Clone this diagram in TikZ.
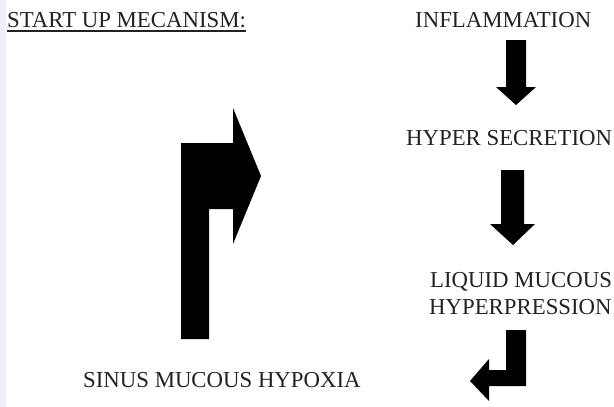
\documentclass[tikz,border=0pt]{standalone}
\usepackage{fontspec}
\setmainfont{Liberation Serif}
\definecolor{stripgray}{HTML}{EEF0F6}
\definecolor{inkgray}{HTML}{222222}
\tikzset{
  label/.style={anchor=base west,inner sep=0pt,text=inkgray,font=\fontsize{22.8}{27}\selectfont},
  blockarrow/.style={fill=black,draw=none}
}
\begin{document}
\begin{tikzpicture}[x=1pt,y=-1pt]
      \useasboundingbox (0,0) rectangle (614,407);
      \fill[stripgray] (0,0) rectangle (6,407);
      \node[label] (title) at (7,27) {START UP MECANISM:};
      \draw[inkgray,line width=1.2pt] ([yshift=-4pt]title.base west) -- ([yshift=-4pt]title.base east);
      \node[label] (infl) at (415,27) {INFLAMMATION};
      \node[label] (secr) at (406,145) {HYPER SECRETION};
      \node[label] (liq) at (430,287) {LIQUID MUCOUS};
      \node[label] (press) at (429,314) {HYPERPRESSION};
      \node[label] (hypox) at (83,387) {SINUS MUCOUS HYPOXIA};
      % block arrows
      \fill[blockarrow] (506,40) -- (526,40) -- (526,87) -- (536,87) -- (516,105)
        -- (496,87) -- (506,87) -- cycle;
      \fill[blockarrow] (501,170) -- (524,170) -- (524,224) -- (535,224) -- (513,245)
        -- (490,224) -- (501,224) -- cycle;
      \fill[blockarrow] (506,330) -- (526,330) -- (526,386) -- (489,386) -- (489,401)
        -- (470,381) -- (489,359) -- (489,370) -- (506,370) -- cycle;
      \fill[blockarrow] (181,339) -- (181,143) -- (233,143) -- (233,108) -- (261,176)
        -- (233,244) -- (233,209) -- (209,209) -- (209,339) -- cycle;
    \end{tikzpicture}
\end{document}
